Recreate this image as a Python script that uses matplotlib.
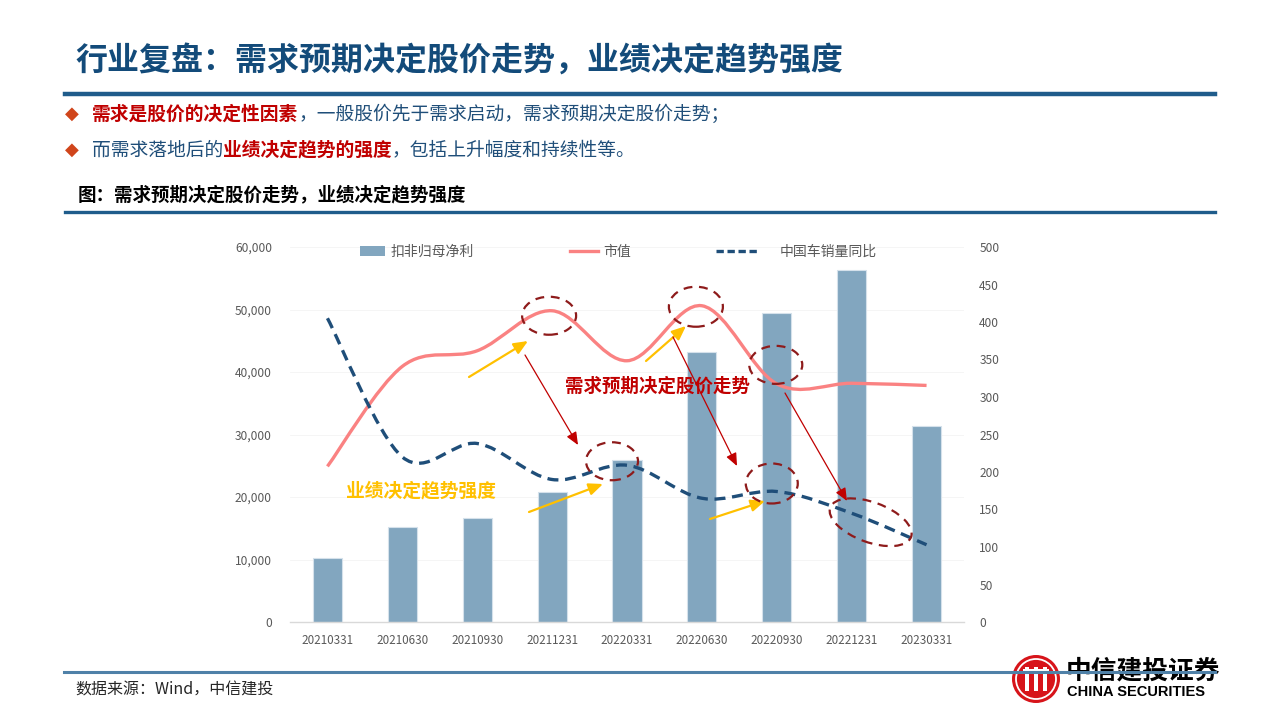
import matplotlib
matplotlib.use('Agg')
import matplotlib.pyplot as plt
from matplotlib.path import Path
from matplotlib.patches import PathPatch, Ellipse, Circle, Patch, Rectangle
from matplotlib.lines import Line2D
from matplotlib.transforms import IdentityTransform

plt.rcParams['font.family'] = ['Noto Sans CJK SC', 'DejaVu Sans']
plt.rcParams['axes.unicode_minus'] = False

# ---------------- data ----------------
categories = ['20210331', '20210630', '20210930', '20211231', '20220331',
              '20220630', '20220930', '20221231', '20230331']
profit = [10200, 15200, 16600, 20800, 25900, 43250, 49500, 56300, 31400]      # 扣非归母净利 (left)
market_value = [24900, 40900, 43400, 49800, 41800, 50600, 38100, 38200, 37850]  # 市值 (left)
car_sales_yoy = [405, 220, 238, 190, 209, 165, 174, 145, 103]                 # 中国车销量同比 (right)
left_ticks = [0, 10000, 20000, 30000, 40000, 50000, 60000]
right_ticks = [0, 50, 100, 150, 200, 250, 300, 350, 400, 450, 500]
legend_labels = ['扣非归母净利', '市值', '中国车销量同比']

BAR_C = '#82A6BF'
PINK = '#FA8282'
NAVY = '#1F4E79'
DKRED = '#8E1B1B'
RED = '#C00000'
GOLD = '#FFC000'
BLUE_TXT = '#1F4E79'
TICK_C = '#595959'

W, H = 1280, 720
fig = plt.figure(figsize=(12.8, 7.2), dpi=100)
fig.patch.set_facecolor('white')


def fx(x):
    return x / W


def fy(y):
    return 1 - y / H


def fp(x, y):
    return (x, H - y)


# ---------------- page header ----------------
fig.text(fx(75), fy(61), '行业复盘：需求预期决定股价走势，业绩决定趋势强度',
         fontsize=23, weight='bold', color='#134B7A', va='center', ha='left')
fig.add_artist(Line2D([fx(65), fx(1215)], [fy(94), fy(94)], lw=3.2, color='#1F5C8B'))

renderer = fig.canvas.get_renderer()


def rich(x, y, parts, size):
    cur = x
    for s, color, weight in parts:
        t = fig.text(fx(cur), fy(y), s, fontsize=size, color=color, weight=weight,
                     va='center', ha='left')
        cur += t.get_window_extent(renderer).width


for yy in (114, 150):
    fig.text(fx(65), fy(yy), '◆', fontsize=13, color='#D0451B', va='center', ha='left',
             family=['DejaVu Sans'])

rich(92, 114, [('需求是股价的决定性因素', RED, 'bold'),
               ('，一般股价先于需求启动，需求预期决定股价走势；', BLUE_TXT, 'normal')], 13.5)
rich(92, 150, [('而需求落地后的', BLUE_TXT, 'normal'),
               ('业绩决定趋势的强度', RED, 'bold'),
               ('，包括上升幅度和持续性等。', BLUE_TXT, 'normal')], 13.5)

fig.text(fx(78), fy(195), '图：需求预期决定股价走势，业绩决定趋势强度',
         fontsize=13.3, weight='bold', color='black', va='center', ha='left')
fig.add_artist(Line2D([fx(65), fx(1215)], [fy(212), fy(212)], lw=2.4, color='#1F5C8B'))

# ---------------- chart ----------------
ax = fig.add_axes([fx(290), fy(622), fx(964) - fx(290), fy(247) - fy(622)])
ax2 = ax.twinx()
xs = list(range(len(categories)))

ax.bar(xs, profit, width=0.39, color=BAR_C, edgecolor='#D5E1EB', linewidth=0.8, zorder=2)


def smooth_path(xv, yv):
    pts = list(zip(xv, yv))
    n = len(pts)
    verts = [pts[0]]
    codes = [Path.MOVETO]
    for i in range(n - 1):
        p0 = pts[i - 1] if i > 0 else pts[i]
        p1 = pts[i]
        p2 = pts[i + 1]
        p3 = pts[i + 2] if i + 2 < n else pts[i + 1]
        c1 = (p1[0] + (p2[0] - p0[0]) / 6, p1[1] + (p2[1] - p0[1]) / 6)
        c2 = (p2[0] - (p3[0] - p1[0]) / 6, p2[1] - (p3[1] - p1[1]) / 6)
        verts += [c1, c2, p2]
        codes += [Path.CURVE4] * 3
    return Path(verts, codes)


ax.add_patch(PathPatch(smooth_path(xs, market_value), fill=False, edgecolor=PINK,
                       lw=2.4, capstyle='butt', joinstyle='round', zorder=3))
ax2.add_patch(PathPatch(smooth_path(xs, car_sales_yoy), fill=False, edgecolor=NAVY,
                        lw=2.4, linestyle=(0, (3.3, 2.0)), zorder=3))

ax.set_xlim(-0.5, len(categories) - 0.5)
ax.set_ylim(0, 60000)
ax2.set_ylim(0, 500)
ax.set_xticks(xs)
ax.set_xticklabels(categories)
ax.set_yticks(left_ticks)
ax.set_yticklabels([f'{v:,}' for v in left_ticks])
ax2.set_yticks(right_ticks)
ax2.set_yticklabels([str(v) for v in right_ticks])
ax.tick_params(axis='y', length=0, pad=13, labelsize=8.6, labelcolor=TICK_C)
ax.tick_params(axis='x', length=0, pad=9, labelsize=8.4, labelcolor=TICK_C)
ax2.tick_params(axis='y', length=0, pad=11, labelsize=8.6, labelcolor=TICK_C)
for s in ('top', 'left', 'right'):
    ax.spines[s].set_visible(False)
for s in ax2.spines.values():
    s.set_visible(False)
ax.spines['bottom'].set_color('#D9D9D9')
ax.spines['bottom'].set_linewidth(1.0)
ax.yaxis.grid(True, color='#F4F4F4', lw=0.6)
ax.set_axisbelow(True)

# legend: three entries, each with its own key length as in the reference
handles = [Patch(facecolor=BAR_C, edgecolor='none'),
           Line2D([], [], color=PINK, lw=2.4),
           Line2D([], [], color=NAVY, lw=2.4, linestyle=(0, (2.2, 1.1)))]
leg_x = [347, 557, 703]
leg_len = [1.85, 2.05, 3.2]
leg_pad = [0.4, 0.4, 1.45]
for h, lab, lx0, hl, tp in zip(handles, legend_labels, leg_x, leg_len, leg_pad):
    fig.legend([h], [lab], loc='center left', bbox_to_anchor=(fx(lx0), fy(252)),
               frameon=False, fontsize=10, handlelength=hl, handletextpad=tp,
               labelcolor=TICK_C, borderpad=0.4)

# ---------------- annotations ----------------
fig.canvas.draw()


def ring(axis, xi, val, dx, dy, w, h, angle=0):
    cx, cy = axis.transData.transform((xi, val))
    e = Ellipse((cx + dx, cy + dy), w, h, angle=angle, transform=IdentityTransform(),
                fill=False, edgecolor=DKRED, lw=1.6, linestyle=(0, (4, 3)), zorder=6)
    fig.add_artist(e)


ring(ax, 3, market_value[3], -3, -5, 54, 38)
ring(ax, 5, market_value[5], -6, -1, 54, 40)
ring(ax, 6, market_value[6], -1, 19, 53, 38)
ring(ax2, 4, car_sales_yoy[4], -15, 4, 52, 38)
ring(ax2, 6, car_sales_yoy[6], -5, 8, 52, 40)
ring(ax2, 7, car_sales_yoy[7], 19, -9, 86, 40, angle=-20)

gold_arrows = [((469, 377), (528, 341)), ((646, 361), (686, 326)),
               ((529, 512), (603, 484)), ((710, 519), (765, 501))]
red_arrows = [((525, 355), (578, 445)), ((673, 337), (737, 466)), ((785, 393), (847, 501))]
for (a, b) in gold_arrows:
    fig.add_artist(plt.Annotation('', xy=fp(*b), xytext=fp(*a), xycoords='figure pixels',
                                  textcoords='figure pixels',
                                  arrowprops=dict(arrowstyle='-|>,head_length=0.7,head_width=0.3',
                                                  color=GOLD, lw=1.6, shrinkA=0, shrinkB=0,
                                                  mutation_scale=12)))
for (a, b) in red_arrows:
    fig.add_artist(plt.Annotation('', xy=fp(*b), xytext=fp(*a), xycoords='figure pixels',
                                  textcoords='figure pixels',
                                  arrowprops=dict(arrowstyle='-|>,head_length=0.7,head_width=0.3',
                                                  color=RED, lw=0.9, shrinkA=0, shrinkB=0,
                                                  mutation_scale=11)))

fig.text(fx(565), fy(386), '需求预期决定股价走势', fontsize=13.3, weight='bold', color=RED,
         va='center', ha='left', zorder=7)
fig.text(fx(346), fy(491), '业绩决定趋势强度', fontsize=13.5, weight='bold', color=GOLD,
         va='center', ha='left', zorder=7)

# ---------------- footer ----------------
fig.text(fx(75), fy(690), '数据来源：Wind，中信建投', fontsize=11.5, style='italic',
         color='#262626', va='center', ha='left')

# logo
lx, ly, r = 1036, 679, 24
fig.add_artist(Circle(fp(lx, ly), r, transform=IdentityTransform(), facecolor='#D7141A',
                      edgecolor='none', zorder=2))
fig.add_artist(Circle(fp(lx, ly), r - 4, transform=IdentityTransform(), facecolor='none',
                      edgecolor='white', lw=1.3, zorder=3))
for dxx in (-9, 0, 9):
    fig.add_artist(Rectangle(fp(lx + dxx - 2, ly + 12), 4, 24, transform=IdentityTransform(),
                             facecolor='white', edgecolor='none', zorder=3))
fig.add_artist(Rectangle(fp(lx - 13, ly - 7), 26, 3, transform=IdentityTransform(),
                         facecolor='white', edgecolor='none', zorder=3))
fig.text(fx(1066), fy(671), '中信建投证券', fontsize=18.5, weight='bold', color='black',
         va='center', ha='left')
fig.text(fx(1067), fy(692), 'CHINA SECURITIES', fontsize=10.5, weight='bold', color='black',
         va='center', ha='left', family=['Liberation Sans', 'DejaVu Sans'])
fig.add_artist(Line2D([fx(64), fx(1215)], [fy(672), fy(672)], lw=2.2, color='#4F81A8', zorder=5))

fig.savefig('out.png', dpi=100, facecolor='white')
